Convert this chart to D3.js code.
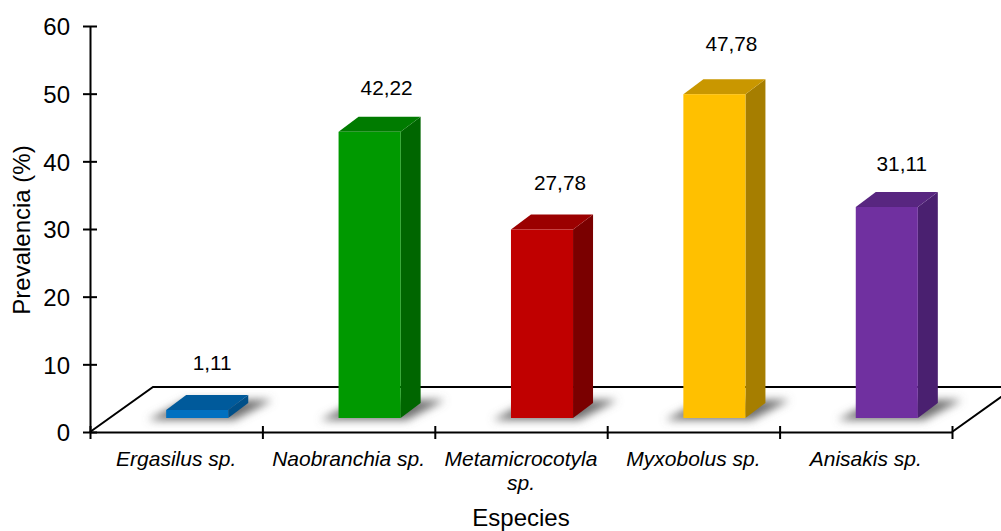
<!DOCTYPE html>
<html>
<head>
<meta charset="utf-8">
<script src="https://d3js.org/d3.v7.min.js"></script>
<style>
  html, body { margin: 0; padding: 0; background: #fff; }
  svg { display: block; }
  text { font-family: "Liberation Sans", Arial, sans-serif; fill: #000; }
</style>
</head>
<body>
<div id="chart"></div>
<script>
// values
const species = ["Ergasilus sp.", "Naobranchia sp.", "Metamicrocotyla sp.", "Myxobolus sp.", "Anisakis sp."];
const prevalence = [1.11, 42.22, 27.78, 47.78, 31.11];
const yTicks = [0, 10, 20, 30, 40, 50, 60];

// front, top and side colour of each bar
const frontColours = ["#0070c0", "#009900", "#c00000", "#ffc000", "#7030a0"];
const topColours = ["#005a9b", "#007b00", "#9b0000", "#c99700", "#582680"];
const sideColours = ["#004f88", "#006600", "#7a0000", "#a67e00", "#4a2070"];

// the labels were moved by hand in the original, so they are not evenly placed
const labelNudgeX = [-3, -1, 0, -1, -3];
const labelNudgeY = [-3, 0, -3, -7, 1];

const width = 1001;
const height = 531;
const axisLeft = 90;
const axisRight = 952;
const axisBottom = 432;
const axisTop = 26;

// 3d offsets
const floorDx = 63, floorDy = -45;
const barDx = 20, barDy = -15;
const barShiftX = 21, barShiftY = -14.5;

const svg = d3.select("#chart").append("svg")
    .attr("width", width)
    .attr("height", height);

svg.append("defs").append("filter")
    .attr("id", "soft")
    .attr("x", "-30%").attr("y", "-60%")
    .attr("width", "160%").attr("height", "220%")
    .append("feGaussianBlur")
    .attr("stdDeviation", 4);

const x = d3.scaleBand()
    .domain(species)
    .range([axisLeft, axisRight])
    .paddingInner(0.64)
    .paddingOuter(0.32);

const y = d3.scaleLinear()
    .domain([0, 60])
    .range([axisBottom, axisTop]);

// only used for the tick marks between the categories
const xEdges = d3.scaleLinear()
    .domain([0, species.length])
    .range([axisLeft, axisRight]);

// floor of the plot
svg.append("path")
    .attr("fill", "none")
    .attr("stroke", "#000")
    .attr("stroke-width", 2)
    .attr("d", d3.line()([
        [axisLeft, axisBottom],
        [axisLeft + floorDx, axisBottom + floorDy],
        [axisRight + floorDx, axisBottom + floorDy],
        [axisRight, axisBottom]
    ]));

const rows = species.map((name, i) => ({ name, value: prevalence[i], i }));
const baseY = axisBottom + barShiftY + 0.5;

const bars = svg.selectAll("g.bar")
    .data(rows)
    .join("g")
    .attr("class", "bar");

// blurred shadow on the floor
bars.append("path")
    .attr("fill", "#707070")
    .attr("filter", "url(#soft)")
    .attr("d", d => {
        const x0 = x(d.name) + barShiftX;
        const x1 = x0 + x.bandwidth();
        return d3.line()([
            [x0 - 18, baseY + 2],
            [x1 + 6, baseY + 2],
            [x1 + barDx + 24, baseY + barDy - 3],
            [x0 + barDx, baseY + barDy - 3]
        ]) + "Z";
    });

bars.append("path")
    .attr("fill", d => sideColours[d.i])
    .attr("d", d => {
        const x1 = x(d.name) + barShiftX + x.bandwidth();
        const top = y(d.value) + barShiftY;
        return d3.line()([
            [x1, baseY], [x1 + barDx, baseY + barDy],
            [x1 + barDx, top + barDy], [x1, top]
        ]) + "Z";
    });

bars.append("path")
    .attr("fill", d => topColours[d.i])
    .attr("d", d => {
        const x0 = x(d.name) + barShiftX;
        const x1 = x0 + x.bandwidth();
        const top = y(d.value) + barShiftY;
        return d3.line()([
            [x0, top], [x1, top],
            [x1 + barDx, top + barDy], [x0 + barDx, top + barDy]
        ]) + "Z";
    });

bars.append("rect")
    .attr("fill", d => frontColours[d.i])
    .attr("x", d => x(d.name) + barShiftX)
    .attr("y", d => y(d.value) + barShiftY)
    .attr("width", x.bandwidth())
    .attr("height", d => baseY - (y(d.value) + barShiftY));

// value labels, comma as decimal mark
bars.append("text")
    .attr("x", d => x(d.name) + barShiftX + x.bandwidth() / 2 + 18 + labelNudgeX[d.i])
    .attr("y", d => y(d.value) - 51 + labelNudgeY[d.i])
    .attr("text-anchor", "middle")
    .style("font-size", "20.8px")
    .text(d => d3.format(".2f")(d.value).replace(".", ","));

// y axis
const yAxis = svg.append("g")
    .attr("transform", `translate(${axisLeft},0)`)
    .call(d3.axisLeft(y).tickValues(yTicks).tickSize(7).tickPadding(13).tickSizeOuter(0));
yAxis.selectAll(".tick line").attr("x2", -7).attr("x1", 7);
yAxis.selectAll("line, path").attr("stroke", "#000").attr("stroke-width", 2);
yAxis.selectAll("text")
    .attr("font-family", null)
    .attr("y", 1)
    .style("font-size", "24px");

// x axis, marks only
const xAxis = svg.append("g")
    .attr("transform", `translate(0,${axisBottom})`)
    .call(d3.axisBottom(xEdges).ticks(species.length).tickFormat("").tickSize(7).tickSizeOuter(0));
xAxis.selectAll(".tick line").attr("y1", -6);
xAxis.selectAll("line, path").attr("stroke", "#000").attr("stroke-width", 2);

// category labels, the long one wraps
const catLabels = svg.selectAll("text.cat")
    .data(rows)
    .join("text")
    .attr("class", "cat")
    .attr("text-anchor", "middle")
    .style("font-size", "21px")
    .style("font-style", "italic");

catLabels.each(function (d) {
    const parts = d.name.length > 16 ? d.name.split(" ") : [d.name];
    d3.select(this).selectAll("tspan")
        .data(parts)
        .join("tspan")
        .attr("x", x(d.name) + x.bandwidth() / 2)
        .attr("y", (p, j) => 466 + j * 24)
        .text(p => p);
});

// axis titles
svg.append("text")
    .attr("x", (axisLeft + axisRight) / 2)
    .attr("y", 526)
    .attr("text-anchor", "middle")
    .style("font-size", "24px")
    .text("Especies");

svg.append("text")
    .attr("transform", "translate(30,230) rotate(-90)")
    .attr("text-anchor", "middle")
    .style("font-size", "24px")
    .text("Prevalencia (%)");
</script>
</body>
</html>
